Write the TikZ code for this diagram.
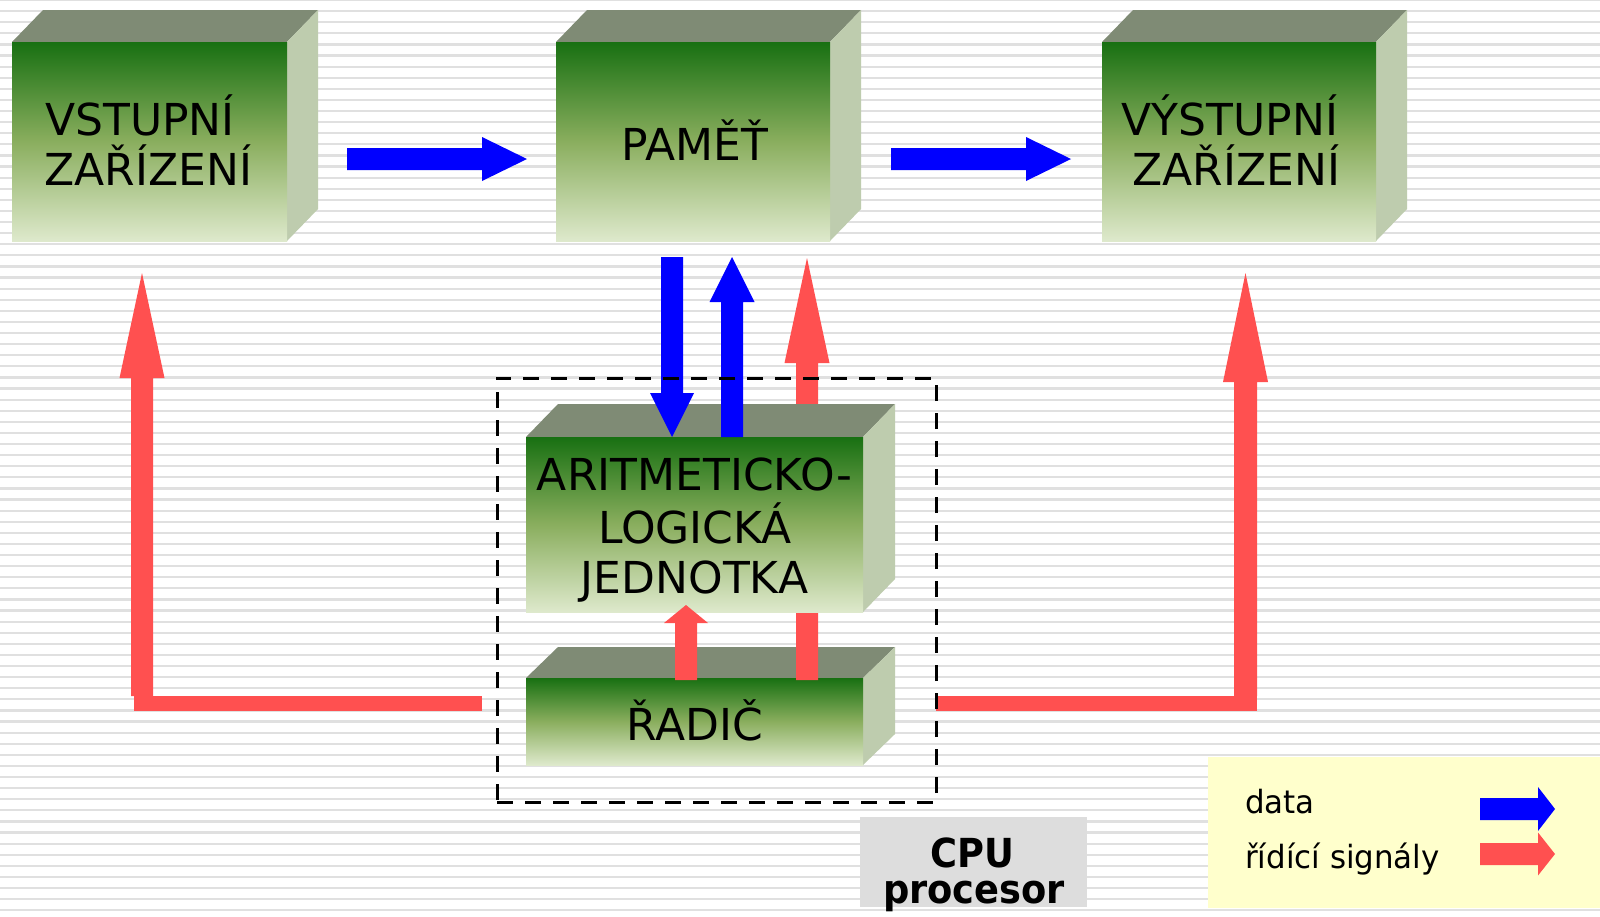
\documentclass[tikz,border=0pt]{standalone}
\usepackage{fontspec}
\setmainfont{DejaVu Sans}
\newfontfamily\condfont[FakeStretch=0.92]{DejaVu Sans}
\newfontfamily\legfont[FakeStretch=0.965]{DejaVu Sans}
\usetikzlibrary{calc}
\definecolor{arrowblue}{RGB}{0,0,255}
\definecolor{arrowred}{RGB}{255,80,80}
\definecolor{gtop}{RGB}{24,112,18}
\definecolor{gmid}{RGB}{138,174,94}
\definecolor{gbot}{RGB}{222,233,204}
\definecolor{topcol}{RGB}{127,139,117}
\definecolor{sidecol}{RGB}{190,204,174}
\definecolor{stripecol}{RGB}{224,224,224}
\definecolor{cpugray}{RGB}{221,221,221}
\definecolor{legendyellow}{RGB}{255,255,204}

% #1 name, #2 x1, #3 y1, #4 x2, #5 y2, #6 dx, #7 dy
\newcommand\threedbox[7]{%
  \fill[topface] (#2,#3) -- ++(#6,-#7) -- (#4+#6,#3-#7) -- (#4,#3) -- cycle;
  \fill[sideface] (#4,#3) -- (#4+#6,#3-#7) -- (#4+#6,#5-#7) -- (#4,#5) -- cycle;
  \node[frontface, minimum width={#4pt-#2pt}, minimum height={#5pt-#3pt}]
     (#1) at ({(#2+#4)/2},{(#3+#5)/2}) {};
}
% #1 start, #2 tip, #3 shaft half width, #4 head half width, #5 head length, #6 colour
\newcommand\blockarrow[6]{%
  \fill[#6] ($(#1)!#3!-90:(#2)$) -- ($(#2)!#5!(#1)!#3!-90:(#2)$)
     -- ($(#2)!#5!(#1)!#4!-90:(#2)$) -- (#2)
     -- ($(#2)!#5!(#1)!#4!90:(#2)$) -- ($(#2)!#5!(#1)!#3!90:(#2)$)
     -- ($(#1)!#3!90:(#2)$) -- cycle;
}

\begin{document}
\begin{tikzpicture}[x=1pt,y=-1pt,
  stripe/.style={draw=stripecol, line width=2.2pt},
  topface/.style={fill=topcol},
  sideface/.style={fill=sidecol},
  frontface/.style={shade, top color=gtop, bottom color=gbot, middle color=gmid,
     inner sep=0pt, outer sep=0pt},
  boxtext/.style={anchor=base, inner sep=0pt, font=\fontsize{44}{50}\selectfont},
  redbar/.style={draw=arrowred, line width=15pt},
  cpudash/.style={draw=black, line width=3pt, dash pattern=on 16pt off 12pt,
     minimum width=439pt, minimum height=424pt, inner sep=0pt},
  legtext/.style={anchor=base west, inner sep=0pt, font=\legfont\fontsize{32}{38}\selectfont},
  cputext/.style={anchor=base, inner sep=0pt, font=\condfont\bfseries\fontsize{40}{44}\selectfont}
]
\useasboundingbox (0,0) rectangle (1600,916);
\fill[white] (0,0) rectangle (1600,916);
\foreach \i in {0,...,82} \draw[stripe] (0,\i*11.1) -- (1600,\i*11.1);

% upper boxes
\threedbox{in}{12}{42}{287}{241}{31}{32}
\threedbox{mem}{556}{42}{830}{241}{31}{32}
\threedbox{out}{1102}{42}{1376}{241}{31}{32}
\node[boxtext] (inA) at (140,135) {VSTUPNÍ};
\node[boxtext] (inB) at (148.5,185) {ZAŘÍZENÍ};
\node[boxtext] (memT) at (695,160) {PAMĚŤ};
\node[boxtext] (outA) at (1230,135) {VÝSTUPNÍ};
\node[boxtext] (outB) at (1236.5,185) {ZAŘÍZENÍ};

% horizontal data arrows
\coordinate (a1s) at (347,159); \coordinate (a1t) at (527,159);
\coordinate (a2s) at (891,159); \coordinate (a2t) at (1071,159);
\blockarrow{a1s}{a1t}{11pt}{22pt}{45pt}{arrowblue}
\blockarrow{a2s}{a2t}{11pt}{22pt}{45pt}{arrowblue}

% control unit
\threedbox{ctl}{526}{678}{863}{765}{32}{31}
\node[boxtext] (ctlT) at (695,740) {ŘADIČ};

% red control arrows
\coordinate (lh1) at (482,703.5); \coordinate (lh2) at (134,703.5);
\coordinate (lvs) at (142,696); \coordinate (lvt) at (142,273);
\draw[redbar] (lh1) -- (lh2);
\blockarrow{lvs}{lvt}{11pt}{22.5pt}{105pt}{arrowred}
\coordinate (rh1) at (936,703.5); \coordinate (rh2) at (1257,703.5);
\coordinate (rvs) at (1245.5,696); \coordinate (rvt) at (1245.5,273);
\draw[redbar] (rh1) -- (rh2);
\blockarrow{rvs}{rvt}{11.5pt}{22.5pt}{109pt}{arrowred}
\coordinate (rms) at (807,680); \coordinate (rmt) at (807,258);
\blockarrow{rms}{rmt}{11pt}{22.5pt}{105pt}{arrowred}

% ALU
\threedbox{alu}{526}{437}{863}{612}{32}{33}
\node[boxtext] (aluA) at (694.5,490) {ARITMETICKO-};
\node[boxtext] (aluB) at (695,543) {LOGICKÁ};
\node[boxtext] (aluC) at (694.5,593) {JEDNOTKA};

\coordinate (rss) at (686,680); \coordinate (rst) at (686,605);
\blockarrow{rss}{rst}{11pt}{22pt}{18pt}{arrowred}

% vertical data arrows
\coordinate (bds) at (672,257); \coordinate (bdt) at (672,437);
\blockarrow{bds}{bdt}{11pt}{22pt}{44pt}{arrowblue}
\coordinate (bus) at (732,437); \coordinate (but) at (732,257);
\blockarrow{bus}{but}{11pt}{22.5pt}{45pt}{arrowblue}

% CPU frame
\node[cpudash] (cpu) at (716.5,590) {};

% CPU label
\node[fill=cpugray, minimum width=227pt, minimum height=90pt, inner sep=0pt] (cpulab) at (973.5,862) {};
\node[cputext] (cpuA) at (972.5,867) {CPU};
\node[cputext] (cpuB) at (974,903) {procesor};

% legend
\node[fill=legendyellow, minimum width=392pt, minimum height=151pt, inner sep=0pt] (legend) at (1404,832.5) {};
\node[legtext] (ldata) at (1245,813) {data};
\node[legtext] (lctl) at (1245,868) {řídící signály};
\coordinate (lbs) at (1480,809); \coordinate (lbt) at (1555,809);
\blockarrow{lbs}{lbt}{11pt}{22pt}{17pt}{arrowblue}
\coordinate (lrs) at (1480,854); \coordinate (lrt) at (1555,854);
\blockarrow{lrs}{lrt}{11pt}{21.5pt}{17pt}{arrowred}
\end{tikzpicture}
\end{document}
